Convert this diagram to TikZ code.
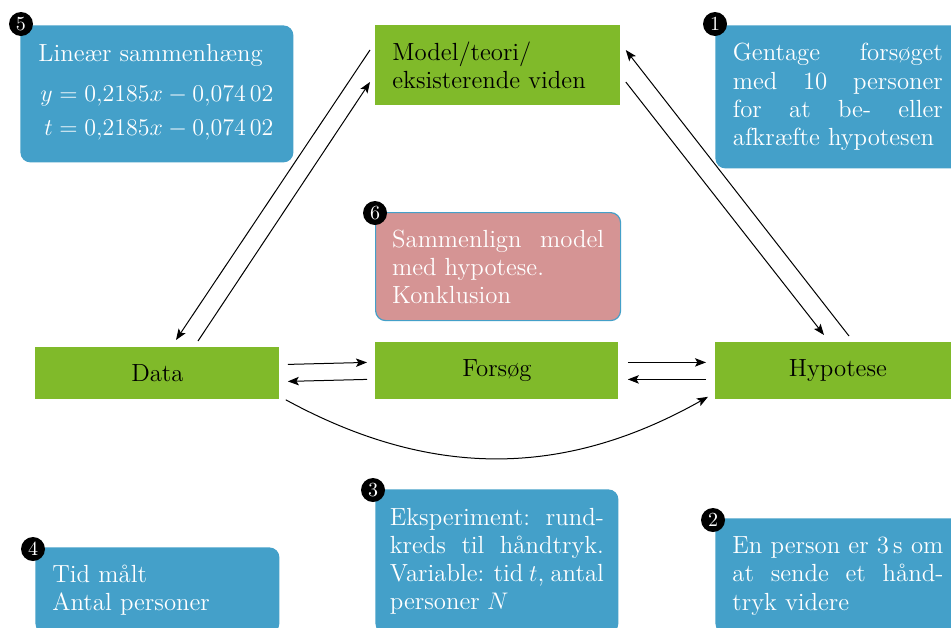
\documentclass[tikz,border=0pt]{standalone}
\usepackage{amsmath}
\usetikzlibrary{arrows.meta}
\definecolor{cardblue}{RGB}{68,160,201}
\definecolor{stagegreen}{RGB}{128,186,42}
\definecolor{notepink}{RGB}{213,148,148}

\begin{document}
\begin{tikzpicture}[x=0.5pt,y=-0.5pt,
  font=\fontsize{12.4}{14.1}\selectfont,
  card/.style={fill=cardblue, rounded corners=5pt, text=white,
    anchor=north west, inner xsep=0pt, inner ysep=0pt, align=justify},
  notecard/.style={card, fill=notepink, draw=cardblue, line width=0.6pt},
  stage/.style={fill=stagegreen, text=black, anchor=north west,
    inner xsep=0pt, inner ysep=0pt},
  badge/.style={circle, fill=black, text=white, inner sep=0pt,
    minimum size=12pt, font=\fontsize{10}{10}\selectfont},
  flow/.style={-{Stealth[length=5.5pt,width=4.2pt,inset=1.2pt]}, line width=0.5pt}
]
\useasboundingbox[fill=white] (0,0) rectangle (951,627);

% stages of the cycle
\node[stage, minimum width=122.5pt, minimum height=40pt, text width=105.5pt, align=left]
  (model) at (375,25) {Model/teori/\\eksisterende viden};
\node[stage, minimum width=122pt, minimum height=26pt] (data) at (35,347) {Data};
\node[stage, minimum width=121.5pt, minimum height=28.5pt] (trial) at (375,342) {Forsøg};
\node[stage, minimum width=122.5pt, minimum height=28.5pt] (hyp) at (715,342) {Hypotese};

% numbered notes
\node[card, minimum width=136.5pt, minimum height=68.5pt, text width=118.5pt]
  (linear) at (20,25)
  {Lineær sammenhæng\par\vspace{6.5pt}
   {\centering$\begin{aligned} y &= 0{,}2185x-0{,}074\,02\\ t &= 0{,}2185x-0{,}074\,02\end{aligned}$\par}};
\node[card, minimum width=122.5pt, minimum height=71.5pt, text width=105pt]
  (repeat) at (715,25)
  {Gentage forsøget\linebreak med 10 personer\linebreak for at be- eller\linebreak afkræfte hypotesen};
\node[notecard, minimum width=122.5pt, minimum height=54pt, text width=106pt]
  (compare) at (375,212)
  {Sammenlign model\linebreak med hypotese.\newline Konklusion};
\node[card, minimum width=122pt, minimum height=43pt, text width=105pt, align=left]
  (measure) at (35,547) {Tid målt\\Antal personer};
\node[card, minimum width=121.5pt, minimum height=72pt, text width=107pt]
  (experiment) at (375,489)
  {\spaceskip=0.3em plus 0.2em minus 0.12em
   Eksperiment: rund-\linebreak kreds til håndtryk.\linebreak Variable: tid $t$, antal\linebreak personer $N$};
\node[card, minimum width=122.5pt, minimum height=57.5pt, text width=105.5pt]
  (premise) at (715,518)
  {En person er 3\,s om\linebreak at sende et hånd-\linebreak tryk videre};

% badges on the note corners
\node[badge] (n1) at ([shift={(0,-1)}]repeat.north west) {1};
\node[badge] (n2) at ([shift={(-2,2)}]premise.north west) {2};
\node[badge] (n3) at ([shift={(-2,1)}]experiment.north west) {3};
\node[badge] (n4) at ([shift={(-2,2)}]measure.north west) {4};
\node[badge] (n5) at ([shift={(1,-1)}]linear.north west) {5};
\node[badge] (n6) at ([shift={(0,1)}]compare.north west) {6};

% connectors
\draw[flow] ([shift={(-5,25)}]model.north west) -- ([shift={(141,-7)}]data.north west);
\draw[flow] ([shift={(163,-6)}]data.north west) -- ([shift={(-5,57)}]model.north west);
\draw[flow] ([shift={(134,-6)}]hyp.north west) -- ([shift={(5,25)}]model.north east);
\draw[flow] ([shift={(5,57)}]model.north east) -- ([shift={(109,-7)}]hyp.north west);

\draw[flow] ([shift={(8,-9)}]data.east) -- ([shift={(-8,-8.5)}]trial.west);
\draw[flow] ([shift={(-8,8.5)}]trial.west) -- ([shift={(8,8)}]data.east);
\draw[flow] ([shift={(9,-8.5)}]trial.east) -- ([shift={(-9,-8.5)}]hyp.west);
\draw[flow] ([shift={(-9,8.5)}]hyp.west) -- ([shift={(9,8.5)}]trial.east);

\draw[flow] ([shift={(6,0)}]data.south east) to[bend right=29] ([shift={(-7,-3)}]hyp.south west);
\end{tikzpicture}
\end{document}
